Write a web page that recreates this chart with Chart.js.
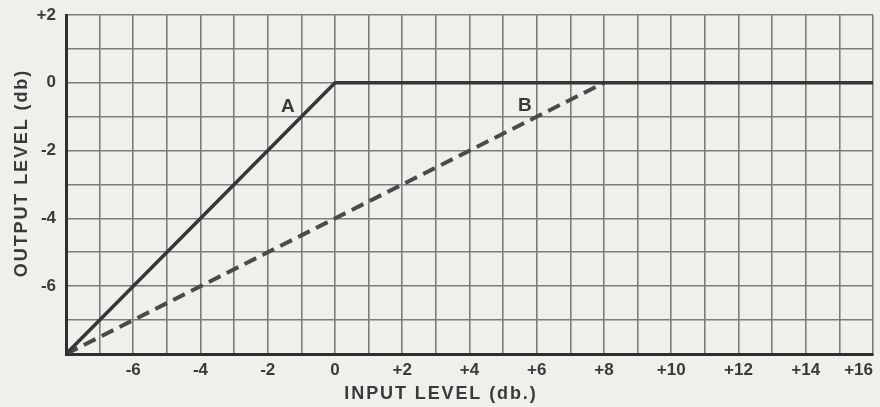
<!DOCTYPE html>
<html>
<head>
<meta charset="utf-8">
<script src="https://cdn.jsdelivr.net/npm/chart.js@4"></script>
<style>
  html, body { margin: 0; padding: 0; background: #f0efec; }
  #wrap { width: 880px; height: 407px; }
</style>
</head>
<body>
<div id="wrap"><canvas id="c" width="880" height="407"></canvas></div>
<script>
// ---- data ----
const seriesA_x = [-8, 0, 16];
const seriesA_y = [-8, 0, 0];
const seriesB_x = [-8, 8];
const seriesB_y = [-8, 0];
const xTickValues = [-6, -4, -2, 0, 2, 4, 6, 8, 10, 12, 14, 16];
const yTickValues = [2, 0, -2, -4, -6];
const xTitle = 'INPUT LEVEL (db.)';
const yTitle = 'OUTPUT LEVEL (db)';
const curveLabels = ['A', 'B'];
const curveLabelX = [-1.4, 5.65];
const curveLabelY = [-0.72, -0.68];

const fmt = v => (v > 0 ? '+' + v : String(v));

const extras = {
  id: 'extras',
  afterDraw(chart) {
    const ctx = chart.ctx;
    const xs = chart.scales.x, ys = chart.scales.y;
    ctx.save();
    ctx.fillStyle = '#3a3a3a';
    ctx.font = 'bold 18px "Liberation Sans"';
    ctx.letterSpacing = '1.9px';
    ctx.textAlign = 'center';
    ctx.textBaseline = 'alphabetic';
    // x title
    ctx.fillText(xTitle, 441, 399);
    // y title
    ctx.save();
    ctx.translate(27, 173);
    ctx.rotate(-Math.PI / 2);
    ctx.fillText(yTitle, 0, 0);
    ctx.restore();
    // curve labels
    ctx.letterSpacing = '0px';
    ctx.font = 'bold 19px "Liberation Sans"';
    ctx.textBaseline = 'middle';
    for (let i = 0; i < curveLabels.length; i++) {
      ctx.fillText(curveLabels[i], xs.getPixelForValue(curveLabelX[i]), ys.getPixelForValue(curveLabelY[i]));
    }
    ctx.restore();
  }
};

new Chart(document.getElementById('c'), {
  type: 'line',
  data: {
    datasets: [
      {
        label: 'A',
        data: seriesA_x.map((x, i) => ({ x, y: seriesA_y[i] })),
        borderColor: '#363636',
        borderWidth: 3.5,
        pointRadius: 0,
        tension: 0,
        fill: false
      },
      {
        label: 'B',
        data: seriesB_x.map((x, i) => ({ x, y: seriesB_y[i] })),
        borderColor: '#4a4a4a',
        borderWidth: 4,
        borderDash: [13, 7],
        pointRadius: 0,
        tension: 0,
        fill: false
      }
    ]
  },
  options: {
    responsive: false,
    animation: false,
    layout: { padding: { left: 0, right: 7, top: 15, bottom: 0 } },
    plugins: { legend: { display: false }, tooltip: { enabled: false } },
    scales: {
      x: {
        type: 'linear',
        min: -8, max: 16,
        afterFit(s) { s.height = 53; s.paddingLeft = 0; s.paddingRight = 0; },
        afterBuildTicks(s) {
          const t = [];
          for (let v = -8; v <= 16; v++) t.push({ value: v });
          s.ticks = t;
        },
        ticks: {
          autoSkip: false,
          maxRotation: 0,
          align: 'inner',
          padding: 6,
          color: '#3a3a3a',
          font: { family: '"Liberation Sans"', size: 17, weight: 'bold' },
          callback: v => (xTickValues.includes(v) ? fmt(v) : '')
        },
        grid: { color: '#7c7c7c', lineWidth: 1.6, drawTicks: false },
        border: { color: '#2e2e2e', width: 3 }
      },
      y: {
        type: 'linear',
        min: -8, max: 2,
        afterFit(s) { s.width = 66; s.paddingTop = 0; s.paddingBottom = 0; },
        afterBuildTicks(s) {
          const t = [];
          for (let v = -8; v <= 2; v++) t.push({ value: v });
          s.ticks = t;
        },
        ticks: {
          autoSkip: false,
          padding: 10,
          color: '#3a3a3a',
          font: { family: '"Liberation Sans"', size: 17, weight: 'bold' },
          callback: v => (yTickValues.includes(v) ? fmt(v) : '')
        },
        grid: { color: '#7c7c7c', lineWidth: 1.6, drawTicks: false },
        border: { color: '#2e2e2e', width: 3 }
      }
    }
  },
  plugins: [extras]
});
</script>
</body>
</html>
